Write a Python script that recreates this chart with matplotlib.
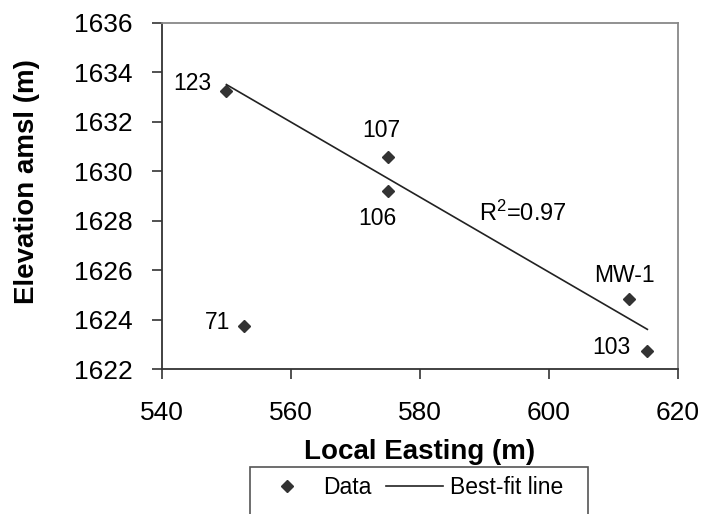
# Elevation vs local easting with best-fit line
import numpy as np
import matplotlib
matplotlib.use("Agg")
import matplotlib.pyplot as plt
from matplotlib.patches import Rectangle

plt.rcParams["font.family"] = ["Liberation Sans", "DejaVu Sans"]
plt.rcParams["mathtext.default"] = "regular"

# data
wells = ["123", "107", "106", "71", "MW-1", "103"]
easting = [550.0, 575.0, 575.0, 552.7, 612.5, 615.3]
elevation = [1633.25, 1630.57, 1629.2, 1623.75, 1624.81, 1622.72]
in_fit = [True, True, True, False, True, True]   # well 71 left out of the fit
r2_text = "R$^{2}$=0.97"

# label offsets in pixels (dx, dy) and alignment
label_pos = {
    "123": (-15, 7, "right"),
    "107": (-6, 27, "center"),
    "106": (-10, -28, "center"),
    "71": (-14, 3, "right"),
    "MW-1": (-5, 24, "center"),
    "103": (-17, 4, "right"),
}

fit_x = np.array([e for e, k in zip(easting, in_fit) if k])
fit_y = np.array([v for v, k in zip(elevation, in_fit) if k])
coef = np.polyfit(fit_x, fit_y, 1)
xs = np.array([fit_x.min(), fit_x.max()])

fig = plt.figure(figsize=(7.07, 5.14), dpi=100)
ax = fig.add_axes([0.2291, 0.2821, 0.7294, 0.6737])

pts, = ax.plot(easting, elevation, linestyle="none", marker="D", ms=6.5,
               color="#333333", label="Data")
fit, = ax.plot(xs, np.polyval(coef, xs), color="#222222", lw=1.2,
               label="Best-fit line")

for w, x, y in zip(wells, easting, elevation):
    dx, dy, ha = label_pos[w]
    ax.annotate(w, (x, y), xytext=(dx, dy), textcoords="offset pixels",
                ha=ha, va="center", fontsize=16.5, color="black")

ax.text(596.0, 1628.3, r2_text, ha="center", va="center", fontsize=17)

ax.set_xlim(540, 620)
ax.set_ylim(1622, 1636)
ax.set_xticks(np.arange(540, 621, 20))
ax.set_yticks(np.arange(1622, 1637, 2))
ax.tick_params(axis="both", direction="out", length=7, width=1.2,
               color="#333333", labelsize=19)
ax.tick_params(axis="y", pad=14)
ax.tick_params(axis="x", pad=16)
for s in ["left", "bottom"]:
    ax.spines[s].set_color("#333333")
    ax.spines[s].set_linewidth(1.3)
for s in ["top", "right"]:
    ax.spines[s].set_color("#888888")
    ax.spines[s].set_linewidth(1.3)

ax.set_xlabel("Local Easting (m)", fontsize=20, fontweight="bold", labelpad=10)
ax.set_ylabel("Elevation amsl (m)", fontsize=20, fontweight="bold")
ax.yaxis.set_label_coords((40 - 162) / 515.7, 0.54)

# legend box (cut off at the bottom of the figure)
fig.patches.append(Rectangle((250 / 707, -0.1), (588 - 250) / 707, 0.1914,
                             transform=fig.transFigure, fill=False,
                             edgecolor="#555555", lw=1.2))
fig.legend([pts, fit], ["Data", "Best-fit line"], ncol=2, frameon=False,
           loc="center left", bbox_to_anchor=(258.5 / 707, 1 - 488 / 514),
           borderpad=0, borderaxespad=0, fontsize=16.5, handlelength=2.5,
           handletextpad=0.3, columnspacing=0.65)

fig.savefig("out.png", dpi=100)
